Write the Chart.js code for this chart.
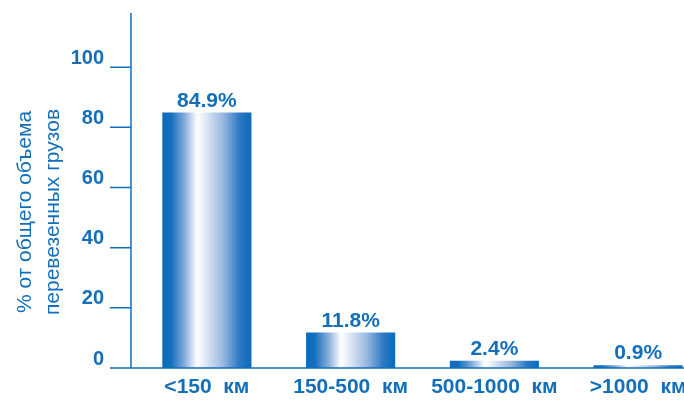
<!DOCTYPE html>
<html>
<head>
<meta charset="utf-8">
<script src="https://cdn.jsdelivr.net/npm/chart.js@4"></script>
<style>
  html, body { margin: 0; padding: 0; overflow: hidden; background: #fff; }
</style>
</head>
<body>
<canvas id="chart" width="712" height="403"></canvas>
<script>
// Chart data
const categories = ['<150  км', '150-500  км', '500-1000  км', '>1000  км'];
const shares = [84.9, 11.8, 2.4, 0.9];
const yTicks = [0, 20, 40, 60, 80, 100];
const yTitle = ['% от общего объема', 'перевезенных грузов'];

const blue = '#136fb9';
const font = 'Liberation Sans, Arial, sans-serif';
const barPct = 0.62;

// Horizontal gradient for each bar, worked out from the x scale
function barGradient(context) {
    const chart = context.chart;
    const xs = chart.scales.x;
    if (!chart.chartArea || !xs) return blue;
    const w = xs.width / categories.length * barPct;
    const x0 = xs.getPixelForValue(context.dataIndex) - w / 2;
    const g = chart.ctx.createLinearGradient(x0, 0, x0 + w, 0);
    g.addColorStop(0, '#0a6abb');
    g.addColorStop(0.1, '#166fbe');
    g.addColorStop(0.25, '#86acdb');
    g.addColorStop(0.39, '#ffffff');
    g.addColorStop(0.47, '#e6edf8');
    g.addColorStop(0.68, '#98b8df');
    g.addColorStop(0.87, '#2b78c4');
    g.addColorStop(1, '#0a6abb');
    return g;
}

// Axis lines, tick marks, value labels and rotated title
const decorations = {
    id: 'decorations',
    afterDatasetsDraw(chart) {
        const ctx = chart.ctx;
        const y = chart.scales.y;
        const area = chart.chartArea;
        const axisX = area.left - 4;
        ctx.save();
        ctx.strokeStyle = blue;
        ctx.lineWidth = 1.5;
        ctx.beginPath();
        ctx.moveTo(axisX, area.top);
        ctx.lineTo(axisX, area.bottom);
        ctx.moveTo(axisX - 21, area.bottom);
        ctx.lineTo(chart.width, area.bottom);
        yTicks.forEach(v => {
            const py = y.getPixelForValue(v);
            ctx.moveTo(axisX - 21, py);
            ctx.lineTo(axisX, py);
        });
        ctx.stroke();

        // value labels
        ctx.fillStyle = blue;
        ctx.font = 'bold 21px ' + font;
        ctx.textAlign = 'center';
        ctx.textBaseline = 'alphabetic';
        chart.getDatasetMeta(0).data.forEach((bar, i) => {
            ctx.fillText(shares[i].toFixed(1) + '%', bar.x, bar.y - 6);
        });

        // y title
        ctx.font = '21px ' + font;
        ctx.textBaseline = 'middle';
        ctx.translate(0, 212);
        ctx.rotate(-Math.PI / 2);
        ctx.fillText(yTitle[0], 0, 25);
        ctx.fillText(yTitle[1], 0, 53);
        ctx.restore();
    }
};

const chart = new Chart(document.getElementById('chart'), {
    type: 'bar',
    data: {
        labels: categories,
        datasets: [{
            data: shares,
            backgroundColor: barGradient,
            borderWidth: 0,
            barPercentage: barPct,
            categoryPercentage: 1
        }]
    },
    options: {
        responsive: false,
        animation: false,
        layout: { padding: { top: 13, right: 2, left: 0, bottom: 0 } },
        plugins: {
            legend: { display: false },
            tooltip: { enabled: false }
        },
        scales: {
            x: {
                afterFit: scale => {
                    scale.height = 35;
                    scale.paddingLeft = 0;
                    scale.paddingRight = 0;
                },
                grid: { display: false, drawTicks: false },
                border: { display: false },
                ticks: {
                    color: blue,
                    font: { family: font, size: 21, weight: 'bold' },
                    padding: 7,
                    maxRotation: 0
                }
            },
            y: {
                min: 0,
                max: 118,
                afterFit: scale => {
                    scale.width = 135;
                    scale.paddingTop = 0;
                    scale.paddingBottom = 0;
                },
                afterBuildTicks: scale => {
                    scale.ticks = yTicks.map(v => ({ value: v }));
                },
                grid: { display: false, drawTicks: false },
                border: { display: false },
                ticks: {
                    color: blue,
                    font: { family: font, size: 20, weight: 'bold' },
                    padding: 31,
                    labelOffset: -9
                }
            }
        }
    },
    plugins: [decorations]
});
</script>
</body>
</html>
